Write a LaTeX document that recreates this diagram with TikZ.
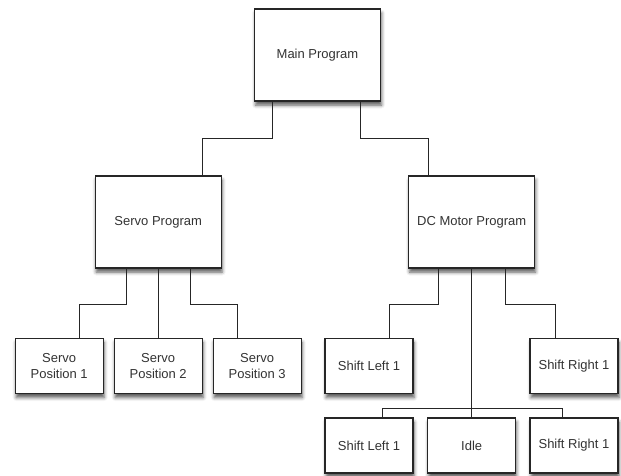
\documentclass[tikz,border=0pt]{standalone}
\usepackage{fontspec}
\setmainfont{Liberation Sans}
\usetikzlibrary{shadows.blur, calc}

\tikzset{
  module/.style={draw=black!85, line width=1.1pt, fill=white, align=center,
    font=\fontsize{13}{16.5}\selectfont, text=black!80, inner sep=0pt,
    blur shadow={shadow xshift=1pt, shadow yshift=-4pt, shadow blur radius=3.5pt,
      shadow opacity=65}},
  bigbox/.style={module, minimum width=126pt, minimum height=92pt},
  leafbox/.style={module, minimum width=88pt, minimum height=55pt},
  wire/.style={draw=black!85, line width=0.9pt}
}

\begin{document}
\begin{tikzpicture}[x=1pt, y=-1pt]
\useasboundingbox (0,0) rectangle (621,475);

\node[bigbox] (main) at (317.5,55) {Main Program};
\node[bigbox] (servo) at (158.2,222) {Servo Program};
\node[bigbox] (dcmotor) at (471.7,222) {DC Motor Program};

\node[leafbox] (servopos1) at (59.2,366) {Servo\\Position 1};
\node[leafbox] (servopos2) at (158.2,366) {Servo\\Position 2};
\node[leafbox] (servopos3) at (257.2,366) {Servo\\Position 3};

\node[leafbox] (shiftleftA) at (369,366) {Shift Left 1};
\node[leafbox] (shiftrightA) at (574,366) {Shift Right 1};
\node[leafbox] (shiftleftB) at (369,445.5) {Shift Left 1};
\node[leafbox] (idle) at (471.7,445.5) {Idle};
\node[leafbox] (shiftrightB) at (574,445.5) {Shift Right 1};

% main program
\draw[wire] ([xshift=-45pt]main.south) -- ++(0,37) -| ([xshift=44pt]servo.north);
\draw[wire] ([xshift=43pt]main.south) -- ++(0,37) -| ([xshift=-43.5pt]dcmotor.north);

% servo
\draw[wire] ([xshift=-31.5pt]servo.south) -- ++(0,35.6) -| ([xshift=20pt]servopos1.north);
\draw[wire] (servo.south) -- (servopos2.north);
\draw[wire] ([xshift=31.8pt]servo.south) -- ++(0,35.6) -| ([xshift=-19.5pt]servopos3.north);

% dc motor
\draw[wire] ([xshift=-33.4pt]dcmotor.south) -- ++(0,35.6) -| ([xshift=20pt]shiftleftA.north);
\draw[wire] ([xshift=33.3pt]dcmotor.south) -- ++(0,35.6) -| ([xshift=-19pt]shiftrightA.north);
\draw[wire] (dcmotor.south) -- (idle.north);
\coordinate (split) at ($(idle.north)+(0,-9)$);
\draw[wire] ([xshift=13pt]shiftleftB.north) |- (split) -| ([xshift=-12pt]shiftrightB.north);
\end{tikzpicture}
\end{document}
